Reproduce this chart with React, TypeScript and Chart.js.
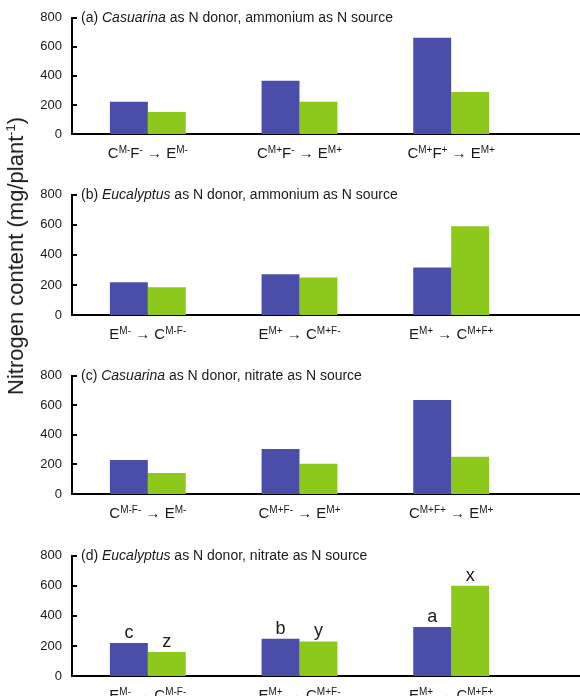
import React, { useEffect, useRef } from 'react';
import { Chart, registerables } from 'chart.js';

Chart.register(...registerables);

// ---------- data ----------
const yTicks = [0, 200, 400, 600, 800];

const panelLetters = ['(a)', '(b)', '(c)', '(d)'];
const donorNames = ['Casuarina', 'Eucalyptus', 'Casuarina', 'Eucalyptus'];
const titleTails = [
  ' as N donor, ammonium as N source',
  ' as N donor, ammonium as N source',
  ' as N donor, nitrate as N source',
  ' as N donor, nitrate as N source',
];

const categoriesA = ['C^{M-}F^{-} → E^{M-}', 'C^{M+}F^{-} → E^{M+}', 'C^{M+}F^{+} → E^{M+}'];
const categoriesB = ['E^{M-} → C^{M-F-}', 'E^{M+} → C^{M+F-}', 'E^{M+} → C^{M+F+}'];
const categoriesC = ['C^{M-F-} → E^{M-}', 'C^{M+F-} → E^{M+}', 'C^{M+F+} → E^{M+}'];
const categoriesD = ['E^{M-} → C^{M-F-}', 'E^{M+} → C^{M+F-}', 'E^{M+} → C^{M+F+}'];

const blueA = [222, 366, 662];
const greenA = [152, 222, 289];
const blueB = [218, 272, 316];
const greenB = [185, 250, 590];
const blueC = [230, 305, 636];
const greenC = [142, 204, 252];
const blueD = [220, 248, 326];
const greenD = [160, 230, 600];

const blueLettersD = ['c', 'b', 'a'];
const greenLettersD = ['z', 'y', 'x'];

const yAxisTitle = 'Nitrogen content (mg/plant';
const yAxisSup = '-1';

// ---------- style ----------
const BLUE = '#4a4ea8';
const GREEN = '#8dc91c';
const FONT = '"Liberation Sans", Arial, Helvetica, sans-serif';
const TEXT = '#1a1a1a';
const AXIS_X = 72;
const PLOT_RIGHT = 527;

type Seg = { text: string; sup: boolean };
function parseRich(s: string): Seg[] {
  const out: Seg[] = [];
  let buf = '';
  let i = 0;
  while (i < s.length) {
    if (s[i] === '^' && s[i + 1] === '{') {
      if (buf) out.push({ text: buf, sup: false });
      buf = '';
      const j = s.indexOf('}', i);
      out.push({ text: s.slice(i + 2, j), sup: true });
      i = j + 1;
    } else {
      buf += s[i];
      i++;
    }
  }
  if (buf) out.push({ text: buf, sup: false });
  return out;
}

const MAIN_PX = 15;
const SUP_PX = 10;

function makePlugin(idx: number, showLetters: boolean) {
  return {
    id: 'panelDecor' + idx,
    afterDraw(chart: any) {
      const ctx = chart.ctx as CanvasRenderingContext2D;
      const area = chart.chartArea;
      const yScale = chart.scales.y;
      const xScale = chart.scales.x;
      ctx.save();
      ctx.strokeStyle = '#000';
      ctx.lineWidth = 2;
      // x axis line continues to the right edge
      const by = Math.round(area.bottom - 1) + 1;
      ctx.beginPath();
      ctx.moveTo(area.right - 1, by);
      ctx.lineTo(chart.width, by);
      ctx.stroke();
      // inward tick marks
      yScale.ticks.forEach((t: any) => {
        if (t.value === 0) return;
        const py = Math.round(yScale.getPixelForValue(t.value));
        ctx.beginPath();
        ctx.moveTo(area.left - 1, py);
        ctx.lineTo(area.left + 5, py);
        ctx.stroke();
      });
      // title
      ctx.fillStyle = TEXT;
      ctx.textBaseline = 'middle';
      ctx.textAlign = 'left';
      let tx = area.left + 9;
      const ty = area.top;
      const parts = [
        { t: panelLetters[idx] + ' ', it: false },
        { t: donorNames[idx], it: true },
        { t: titleTails[idx], it: false },
      ];
      parts.forEach((p) => {
        ctx.font = (p.it ? 'italic ' : '') + '14px ' + FONT;
        ctx.fillText(p.t, tx, ty);
        tx += ctx.measureText(p.t).width;
      });
      // x labels
      const labels = chart.data.labels as string[];
      ctx.textBaseline = 'alphabetic';
      labels.forEach((lab, i) => {
        const segs = parseRich(lab);
        let total = 0;
        const widths = segs.map((s) => {
          ctx.font = (s.sup ? SUP_PX : MAIN_PX) + 'px ' + FONT;
          const w = ctx.measureText(s.text).width;
          total += w;
          return w;
        });
        let x = xScale.getPixelForValue(i) - total / 2;
        const base = area.bottom + 24;
        segs.forEach((s, k) => {
          ctx.font = (s.sup ? SUP_PX : MAIN_PX) + 'px ' + FONT;
          ctx.fillText(s.text, x, s.sup ? base - 5 : base);
          x += widths[k];
        });
      });
      // significance letters
      if (showLetters) {
        ctx.font = '18px ' + FONT;
        ctx.textAlign = 'center';
        ctx.textBaseline = 'bottom';
        const sets = [blueLettersD, greenLettersD];
        sets.forEach((letters, di) => {
          const meta = chart.getDatasetMeta(di);
          meta.data.forEach((bar: any, i: number) => {
            ctx.fillText(letters[i], bar.x, bar.y - 1);
          });
        });
      }
      ctx.restore();
    },
  };
}

type PanelProps = {
  idx: number;
  labels: string[];
  blue: number[];
  green: number[];
  top: number;
  span: number;
  height: number;
  letters: boolean;
};

function Panel({ idx, labels, blue, green, top, span, height, letters }: PanelProps) {
  const ref = useRef<HTMLCanvasElement>(null);
  useEffect(() => {
    if (!ref.current) return;
    const chart = new Chart(ref.current, {
      type: 'bar',
      data: {
        labels,
        datasets: [
          { data: blue, backgroundColor: BLUE, categoryPercentage: 0.5, barPercentage: 1.0 },
          { data: green, backgroundColor: GREEN, categoryPercentage: 0.5, barPercentage: 1.0 },
        ],
      },
      options: {
        animation: false,
        responsive: false,
        maintainAspectRatio: false,
        layout: { padding: { top: 15, bottom: height - 15 - span, left: 0, right: 580 - PLOT_RIGHT } },
        plugins: {
          legend: { display: false },
          tooltip: { enabled: false },
          title: { display: false },
        },
        scales: {
          x: {
            grid: { display: false, drawTicks: false },
            border: { display: true, color: '#000', width: 2 },
            ticks: { display: false },
            afterFit: (s: any) => {
              s.height = 0;
            },
          },
          y: {
            min: 0,
            max: 800,
            afterBuildTicks: (s: any) => {
              s.ticks = yTicks.map((v) => ({ value: v }));
            },
            grid: { display: false, drawTicks: false },
            border: { display: true, color: '#000', width: 2 },
            ticks: { color: TEXT, font: { size: 13, family: FONT }, padding: 10 },
            afterFit: (s: any) => {
              s.width = AXIS_X;
            },
          },
        },
      } as any,
      plugins: [makePlugin(idx, letters)],
    });
    return () => chart.destroy();
  }, []);
  return (
    <canvas
      ref={ref}
      width={580}
      height={height}
      style={{ position: 'absolute', left: 0, top, width: 580, height }}
    />
  );
}

const panelTops = [0, 177, 358, 538];
const panelSpans = [119, 123, 121, 123];

export default function App() {
  useEffect(() => {
    document.body.style.margin = '0';
  }, []);
  const cats = [categoriesA, categoriesB, categoriesC, categoriesD];
  const blues = [blueA, blueB, blueC, blueD];
  const greens = [greenA, greenB, greenC, greenD];
  return (
    <div style={{ position: 'relative', width: 580, height: 696, background: '#fff', overflow: 'hidden' }}>
      {cats.map((c, i) => {
        const h = Math.min(15 + panelSpans[i] + 34, 696 - panelTops[i]);
        return (
          <Panel
            key={i}
            idx={i}
            labels={c}
            blue={blues[i]}
            green={greens[i]}
            top={panelTops[i]}
            span={panelSpans[i]}
            height={h}
            letters={i === 3}
          />
        );
      })}
      <div
        style={{
          position: 'absolute',
          left: 16,
          top: 256,
          transform: 'translate(-50%, -50%) rotate(-90deg)',
          whiteSpace: 'nowrap',
          fontFamily: FONT,
          fontSize: 22,
          color: TEXT,
          lineHeight: '26px',
        }}
      >
        {yAxisTitle}
        <sup style={{ fontSize: 13, lineHeight: 0 }}>{yAxisSup}</sup>)
      </div>
    </div>
  );
}
